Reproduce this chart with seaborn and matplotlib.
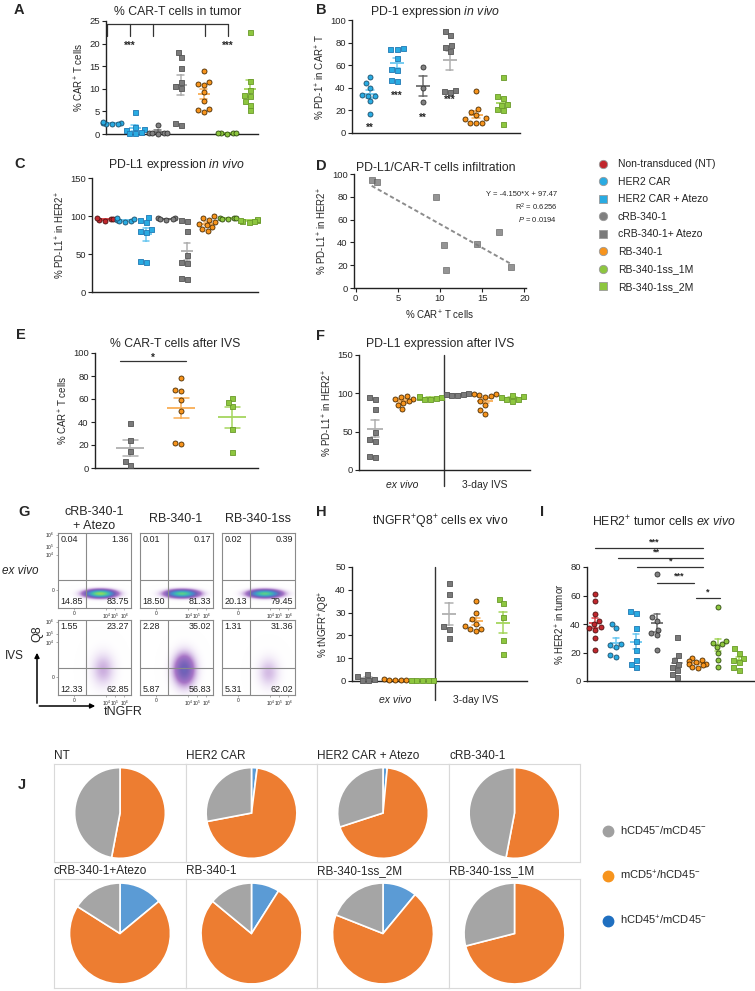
import numpy as np
import pandas as pd
import seaborn as sns
import matplotlib.pyplot as plt
from matplotlib.lines import Line2D
from matplotlib.patches import FancyArrowPatch
from matplotlib.colors import LinearSegmentedColormap

# ---------------- data ----------------
# A: % CAR-T cells in tumor
a_keys = ['HER2', 'HER2A', 'cRB', 'cRBA', 'RB', 'RB1M', 'RB2M']
a_vals = [[2.5, 2.3, 2.4, 2.2, 2.6, 2.3],
          [4.8, 1.6, 1.0, 0.8, 0.5, 0.3, 0.2],
          [2.1, 0.3, 0.2, 0.1, 0.2, 0.3],
          [18.2, 17.1, 14.5, 11.5, 10.6, 10.2, 2.0, 2.4],
          [14.0, 11.5, 11.0, 10.8, 9.2, 7.2, 5.5, 5.4, 4.8],
          [0.2, 0.3, 0.2, 0.1, 0.3],
          [22.5, 11.8, 9.8, 8.7, 8.5, 7.3, 6.5, 5.2]]

# B: PD-1 expression in vivo
b_keys = ['HER2', 'HER2A', 'cRB', 'cRBA', 'RB', 'RB2M']
b_vals = [[50, 44, 40, 34, 33, 33, 28, 17],
          [75, 74, 74, 66, 57, 56, 47, 46],
          [58, 40, 27],
          [90, 87, 76, 73, 78, 38, 36, 37],
          [37, 21, 19, 16, 13, 12, 9, 9, 9],
          [50, 33, 31, 26, 21, 20, 8, 25]]

# C: PD-L1 expression in vivo
c_keys = ['NT', 'HER2', 'HER2A', 'cRB', 'cRBA', 'RB', 'RB1M', 'RB2M']
c_vals = [[96, 95, 97, 94, 96],
          [95, 93, 97, 94, 92, 96],
          [99, 95, 92, 83, 79, 80, 41, 39],
          [97, 96, 95, 97, 96],
          [95, 93, 80, 49, 40, 38, 18, 17],
          [100, 97, 95, 92, 90, 88, 85, 83, 80],
          [97, 96, 97, 98, 96],
          [95, 93, 96, 94, 92, 95]]

# D: PD-L1 vs CAR-T infiltration
d_car = [1.9, 2.5, 9.5, 10.5, 10.7, 14.4, 17.0, 18.4]
d_pdl1 = [95, 93, 80, 38, 16, 39, 49, 18]
d_stats = ['Y = -4.150*X + 97.47', 'R$^{2}$ = 0.6256', '$\\mathit{P}$ = 0.0194']

# E: % CAR-T cells after IVS
e_keys = ['cRBA', 'RB', 'RB2M']
e_vals = [[39, 24, 15, 6, 3],
          [78, 67, 68, 59, 50, 21, 22],
          [61, 54, 57, 34, 14]]

# F: PD-L1 expression after IVS (ex vivo | 3-day IVS)
f_keys = ['cRBA', 'RB', 'RB2M', 'cRBA', 'RB', 'RB2M']
f_vals = [[93, 95, 80, 49, 40, 38, 18, 17],
          [97, 95, 93, 92, 90, 88, 85, 80],
          [95, 93, 96, 94, 92, 95],
          [99, 98, 100, 99, 98],
          [99, 98, 97, 99, 95, 90, 85, 78, 73],
          [97, 95, 93, 98, 92, 90]]

# G: flow cytometry quadrant percentages (UL, UR, LL, LR)
g_cols = ['cRB-340-1\n+ Atezo', 'RB-340-1', 'RB-340-1ss']
g_exvivo = [[0.04, 1.36, 14.85, 83.75], [0.01, 0.17, 18.50, 81.33], [0.02, 0.39, 20.13, 79.45]]
g_ivs = [[1.55, 23.27, 12.33, 62.85], [2.28, 35.02, 5.87, 56.83], [1.31, 31.36, 5.31, 62.02]]
# cloud centre / spread / peak density of each flow plot
g_ex_cloud = [(0.58, 0.19, 0.17, 0.045, 1.0), (0.57, 0.19, 0.18, 0.045, 0.9), (0.58, 0.19, 0.18, 0.045, 0.9)]
g_ivs_cloud = [(0.62, 0.34, 0.14, 0.20, 0.26), (0.60, 0.34, 0.13, 0.19, 0.52), (0.63, 0.30, 0.13, 0.18, 0.24)]

# H: tNGFR+Q8+ cells
h_keys = ['cRBA', 'RB', 'RB2M', 'cRBA', 'RB', 'RB2M']
h_vals = [[3.0, 2.0, 1.0, 0.5, 0.5],
          [0.8, 0.5, 0.4, 0.3, 0.5],
          [0.6, 0.4, 0.5, 0.3, 0.5],
          [43, 38, 24, 23, 19],
          [35, 30, 27, 25, 24, 23, 23, 22],
          [36, 34, 28, 18, 12]]

# I: HER2+ tumor cells ex vivo
i_keys = ['NT', 'HER2', 'HER2A', 'cRB', 'cRBA', 'RB', 'RB1M', 'RB2M']
i_vals = [[61, 56, 47, 42, 40, 38, 36, 37, 30, 22],
          [40, 37, 26, 24, 18, 17, 25],
          [48, 49, 37, 28, 22, 15, 10, 12],
          [75, 45, 36, 34, 32, 22, 42],
          [31, 18, 15, 12, 10, 8, 5, 3],
          [16, 15, 14, 13, 12, 12, 11, 10, 9],
          [52, 27, 26, 28, 24, 20, 15, 10],
          [23, 20, 16, 15, 13, 10, 8]]

# J: pies (hCD45+/mCD45-, mCD5+/hCD45-, hCD45-/mCD45-)
j_titles = ['NT', 'HER2 CAR', 'HER2 CAR + Atezo', 'cRB-340-1',
            'cRB-340-1+Atezo', 'RB-340-1', 'RB-340-1ss_2M', 'RB-340-1ss_1M']
j_blue = [0, 2, 1.5, 0, 14, 9, 11, 0]
j_orange = [53, 70, 68.5, 53, 70, 77, 70, 71]
j_gray = [47, 28, 30, 47, 16, 14, 19, 29]
j_legend = ['hCD45$^{-}$/mCD45$^{-}$', 'mCD5$^{+}$/hCD45$^{-}$', 'hCD45$^{+}$/mCD45$^{-}$']

legend_keys = ['NT', 'HER2', 'HER2A', 'cRB', 'cRBA', 'RB', 'RB1M', 'RB2M']
legend_labels = ['Non-transduced (NT)', 'HER2 CAR', 'HER2 CAR + Atezo', 'cRB-340-1',
                 'cRB-340-1+ Atezo', 'RB-340-1', 'RB-340-1ss_1M', 'RB-340-1ss_2M']

# ---------------- style ----------------
STY = {
    'NT':    dict(face='#C1272D', edge='#4a1212', mean='#E0474C', marker='o'),
    'HER2':  dict(face='#29ABE2', edge='#1d4f6b', mean='#6CC8F0', marker='o'),
    'HER2A': dict(face='#29ABE2', edge='#1F78B4', mean='#6CC8F0', marker='s'),
    'cRB':   dict(face='#808080', edge='#333333', mean='#6E6E6E', marker='o'),
    'cRBA':  dict(face='#7A7A7A', edge='#555555', mean='#B0B0B0', marker='s'),
    'RB':    dict(face='#F7941D', edge='#4a2a00', mean='#F9AE55', marker='o'),
    'RB1M':  dict(face='#8DC63F', edge='#2f4a10', mean='#A5D65E', marker='o'),
    'RB2M':  dict(face='#8DC63F', edge='#6A9A2A', mean='#A5D65E', marker='s'),
}

sns.set_style('ticks')
plt.rcParams['font.family'] = ['Liberation Sans', 'DejaVu Sans']
plt.rcParams['mathtext.fontset'] = 'custom'
plt.rcParams['mathtext.rm'] = 'Liberation Sans'
plt.rcParams['mathtext.it'] = 'Liberation Sans:italic'
plt.rcParams['mathtext.bf'] = 'Liberation Sans:bold'

W, H = 755, 991
fig = plt.figure(figsize=(W / 100, H / 100), dpi=100)


def add_ax(x0, y0, x1, y1):
    return fig.add_axes([x0 / W, 1 - y1 / H, (x1 - x0) / W, (y1 - y0) / H])


def ftext(x, y, s, **kw):
    fig.text(x / W, 1 - y / H, s, **kw)


def style_ax(ax):
    sns.despine(ax=ax)
    for s in ('left', 'bottom'):
        ax.spines[s].set_linewidth(1.0)
        ax.spines[s].set_color('#222222')
    ax.tick_params(length=3, width=0.8, labelsize=6.8, pad=1.5, color='#222222')


def dot_panel(rect, keys, vals, xlim, ylim, yticks, ylabel):
    ax = add_ax(*rect)
    names = [f'{k}_{i}' for i, k in enumerate(keys)]
    df = pd.DataFrame({'grp': np.repeat(names, [len(v) for v in vals]),
                       'val': np.concatenate(vals).astype(float)})
    spacing = (rect[2] - rect[0]) / (xlim[1] - xlim[0])
    for n, k in zip(names, keys):
        st = STY[k]
        sns.swarmplot(data=df[df['grp'] == n], x='grp', y='val', order=names,
                      color=st['face'], edgecolor=st['edge'], linewidth=0.6,
                      marker=st['marker'], size=3.6, warn_thresh=1, ax=ax)
    sns.pointplot(data=df, x='grp', y='val', order=names, hue='grp', hue_order=names,
                  palette={n: STY[k]['mean'] for n, k in zip(names, keys)},
                  errorbar='se', capsize=0.3, marker='_', markersize=0.55 * spacing * 0.72,
                  markeredgewidth=1.3, linestyle='none', err_kws={'linewidth': 1.1},
                  legend=False, ax=ax)
    for c in ax.collections:
        c.set_clip_on(False)
    ax.set_xlim(*xlim)
    ax.set_ylim(*ylim)
    ax.set_yticks(yticks)
    style_ax(ax)
    ax.tick_params(axis='x', length=0, labelbottom=False)
    ax.set_xlabel('')
    ax.set_ylabel(ylabel, fontsize=7, labelpad=2)
    return ax


def letter(x, y, s):
    ftext(x, y, s, fontsize=10.5, fontweight='bold', ha='left', va='center')


def title(x, y, s):
    ftext(x, y, s, fontsize=8.8, ha='center', va='center')


# ---------------- A ----------------
ax = dot_panel((106, 21, 258, 134), a_keys, a_vals, (-0.25, 6.35), (0, 25), range(0, 26, 5),
               '% CAR$^{+}$ T cells')
ax.plot([-0.2, 5.05], [24.3, 24.3], color='#333', lw=0.9, clip_on=False)
for xb in [-0.2, 0.8, 1.8, 4.05, 5.05]:
    ax.plot([xb, xb], [24.3, 21.7], color='#333', lw=0.9, clip_on=False)
for xs in [0.8, 5.05]:
    ax.text(xs, 19.6, '***', ha='center', va='center', fontsize=7, fontweight='bold')
letter(14, 10, 'A')
title(178, 12, '% CAR-T cells in tumor')

# ---------------- B ----------------
ax = dot_panel((352, 20, 520, 133), b_keys, b_vals, (-0.68, 5.66), (0, 100), range(0, 101, 20),
               '% PD-1$^{+}$ in CAR$^{+}$ T')
for xs, ys, s in [(0, 5, '**'), (1, 33, '***'), (2, 13, '**'), (3, 29, '***')]:
    ax.text(xs, ys, s, ha='center', va='center', fontsize=7, fontweight='bold')
letter(316, 10, 'B')
title(435, 12, 'PD-1 expression $\\mathit{in\\ vivo}$')

# ---------------- C ----------------
dot_panel((92, 178, 258, 292), c_keys, c_vals, (-0.63, 7.46), (0, 150), [0, 50, 100, 150],
          '% PD-L1$^{+}$ in HER2$^{+}$')
letter(14, 164, 'C')
title(177, 165, 'PD-L1 expression $\\mathit{in\\ vivo}$')

# ---------------- D ----------------
ax = add_ax(354, 174, 526, 288)
sns.regplot(x=d_car, y=d_pdl1, ci=None, truncate=True, marker='s', color='#7A7A7A',
            scatter_kws={'s': 18, 'edgecolor': '#555555', 'linewidths': 0.5, 'zorder': 3},
            line_kws={'color': '#8C8C8C', 'linestyle': (0, (2.2, 1.4)), 'linewidth': 1.4}, ax=ax)
ax.set_xlim(-0.2, 20.2)
ax.set_ylim(0, 100)
ax.set_xticks(range(0, 21, 5))
ax.set_yticks(range(0, 101, 20))
style_ax(ax)
ax.set_xlabel('% CAR$^{+}$ T cells', fontsize=7, labelpad=4)
ax.set_ylabel('% PD-L1$^{+}$ in HER2$^{+}$', fontsize=7, labelpad=2)
for k, s in enumerate(d_stats):
    ftext(557, 194 + 13 * k, s, ha='right', va='center', fontsize=5.5)
letter(316, 166, 'D')
title(436, 168, 'PD-L1/CAR-T cells infiltration')

# legend of groups
handles = [Line2D([], [], ls='none', marker=STY[k]['marker'], markersize=6,
                  markerfacecolor=STY[k]['face'], markeredgecolor='#9a9a9a', markeredgewidth=0.6)
           for k in legend_keys]
fig.legend(handles, legend_labels, loc='upper left', bbox_to_anchor=(594 / W, 1 - 155 / H),
           frameon=False, fontsize=7.5, labelspacing=0.72, handletextpad=0.9,
           handlelength=1.0, borderaxespad=0, labelcolor='#222222')

# ---------------- E ----------------
ax = dot_panel((95, 353, 258, 468), e_keys, e_vals, (-0.69, 2.5), (0, 100), range(0, 101, 20),
               '% CAR$^{+}$ T cells')
ax.plot([-0.2, 1.1], [93, 93], color='#333', lw=0.9, clip_on=False)
ax.text(0.45, 95.5, '*', ha='center', va='center', fontsize=7, fontweight='bold')
letter(16, 335, 'E')
title(175, 344, '% CAR-T cells after IVS')

# ---------------- F ----------------
ax = dot_panel((359, 355, 530, 470), f_keys, f_vals, (-0.58, 5.64), (0, 150), [0, 50, 100, 150],
               '% PD-L1$^{+}$ in HER2$^{+}$')
ax.axvline(2.5, ymin=-0.14, ymax=1, color='#333', lw=1.0, clip_on=False)
ax.text(1, -0.13, 'ex vivo', style='italic', fontsize=7.5, ha='center', va='center',
        transform=ax.get_xaxis_transform())
ax.text(4, -0.13, '3-day IVS', fontsize=7.5, ha='center', va='center',
        transform=ax.get_xaxis_transform())
letter(316, 336, 'F')
title(440, 344, 'PD-L1 expression after IVS')

# ---------------- G ----------------
cmap = LinearSegmentedColormap.from_list('flow', [(1, 1, 1, 0), (0.86, 0.78, 0.92, 0.55),
                                                  (0.66, 0.46, 0.78, 1), (0.45, 0.38, 0.72, 1),
                                                  (0.27, 0.55, 0.80, 1), (0.25, 0.76, 0.66, 1),
                                                  (0.55, 0.86, 0.38, 1)])
gx, gy = np.meshgrid(np.linspace(0, 1, 200), np.linspace(0, 1, 200))
col_x = [58, 140, 222]
rows = [(533, 608, g_exvivo, g_ex_cloud, 0.37), (620, 695, g_ivs, g_ivs_cloud, 0.36)]
for r, (y0, y1, quads, clouds, hline) in enumerate(rows):
    for c in range(3):
        ax = add_ax(col_x[c], y0, col_x[c] + 73, y1)
        cx, cy, sx, sy, peak = clouds[c]
        z = peak * np.exp(-(((gx - cx) / sx) ** 2 + ((gy - cy) / sy) ** 2) / 2)
        ax.imshow(z, extent=(0, 1, 0, 1), origin='lower', cmap=cmap, vmin=0, vmax=1,
                  aspect='auto', interpolation='bilinear')
        ax.axvline(0.38, color='#8a8a8a', lw=0.8)
        ax.axhline(hline, color='#8a8a8a', lw=0.8)
        ax.set_xlim(0, 1)
        ax.set_ylim(0, 1)
        for s in ax.spines.values():
            s.set_color('#8a8a8a')
            s.set_linewidth(0.8)
        ul, ur, ll, lr = quads[c]
        kw = dict(fontsize=6.5, transform=ax.transAxes, color='#222222')
        ax.text(0.03, 0.97, f'{ul:.2f}', ha='left', va='top', **kw)
        ax.text(0.97, 0.97, f'{ur:.2f}', ha='right', va='top', **kw)
        ax.text(0.03, 0.02, f'{ll:.2f}', ha='left', va='bottom', **kw)
        ax.text(0.97, 0.02, f'{lr:.2f}', ha='right', va='bottom', **kw)
        ax.set_xticks([0.22, 0.66, 0.78, 0.91])
        ax.set_xticklabels(['0', '10$^4$', '10$^5$', '10$^6$'])
        if c == 0:
            ax.set_yticks([0.24, 0.71, 0.82, 0.98])
            ax.set_yticklabels(['0', '10$^4$', '10$^5$', '10$^6$'])
        else:
            ax.set_yticks([])
        ax.tick_params(length=1.5, width=0.5, labelsize=3.5, pad=1, color='#8a8a8a')
        if r == 0:
            ftext(col_x[c] + 36, 519, g_cols[c], ha='center', va='center', fontsize=9,
                  linespacing=1.25)
ftext(20, 571, 'ex vivo', style='italic', ha='center', va='center', fontsize=8.5)
ftext(14, 656, 'IVS', ha='center', va='center', fontsize=8.5)
fig.add_artist(FancyArrowPatch((37 / W, 1 - 706 / H), (37 / W, 1 - 650 / H),
                               transform=fig.transFigure, arrowstyle='-|>', mutation_scale=7,
                               lw=1.1, color='k'))
fig.add_artist(FancyArrowPatch((36.5 / W, 1 - 706 / H), (98 / W, 1 - 706 / H),
                               transform=fig.transFigure, arrowstyle='-|>', mutation_scale=7,
                               lw=1.1, color='k'))
ftext(37, 634, 'Q8', rotation=90, ha='center', va='center', fontsize=9)
ftext(104, 712, 'tNGFR', ha='left', va='center', fontsize=9)
letter(18, 512, 'G')

# ---------------- H ----------------
ax = dot_panel((352, 567, 527, 681), h_keys, h_vals, (-0.6, 5.9), (0, 50), range(0, 51, 10),
               '% tNGFR$^{+}$/Q8$^{+}$')
ax.axvline(2.5, ymin=-0.17, ymax=1, color='#333', lw=1.0, clip_on=False)
ax.text(1, -0.17, 'ex vivo', style='italic', fontsize=7.5, ha='center', va='center',
        transform=ax.get_xaxis_transform())
ax.text(4, -0.17, '3-day IVS', fontsize=7.5, ha='center', va='center',
        transform=ax.get_xaxis_transform())
letter(316, 512, 'H')
title(440, 522, 'tNGFR$^{+}$Q8$^{+}$ cells ex vivo')

# ---------------- I ----------------
ax = dot_panel((587, 567, 755, 681), i_keys, i_vals, (-0.4, 7.8), (0, 80), range(0, 81, 20),
               '% HER2$^{+}$ in tumor')
for xa, xb, yb, xs, s in [(0.0, 5.25, 93, 2.9, '***'), (1.1, 5.25, 86, 3.0, '**'),
                          (2.05, 5.25, 80, 3.7, '*'), (3.0, 4.8, 69, 4.1, '***'),
                          (4.9, 6.1, 58, 5.5, '*')]:
    ax.plot([xa, xb], [yb, yb], color='#333', lw=0.9, clip_on=False)
    ax.text(xs, yb + 1.2, s, ha='center', va='bottom', fontsize=6.5, fontweight='bold')
letter(540, 512, 'I')
title(664, 522, 'HER2$^{+}$ tumor cells $\\mathit{ex\\ vivo}$')

# ---------------- J ----------------
box_x = [54, 186, 317, 449, 580]
box_rows = [(764, 862), (879, 988)]
pie_cols = ['#5B9BD5', '#ED7D31', '#A5A5A5']
for idx in range(8):
    r, c = divmod(idx, 4)
    y0, y1 = box_rows[r]
    ax = add_ax(box_x[c], y0, box_x[c + 1], y1)
    ax.pie([j_blue[idx], j_orange[idx], j_gray[idx]], colors=pie_cols, startangle=90,
           counterclock=False, wedgeprops={'edgecolor': 'white', 'linewidth': 1.2})
    ax.set_aspect('equal', adjustable='datalim')
    ax.set_ylim(-1.08, 1.08)
    ax.set_frame_on(True)
    for s in ax.spines.values():
        s.set_visible(True)
        s.set_color('#D9D9D9')
        s.set_linewidth(0.8)
    ftext(box_x[c], y0 - 2, j_titles[idx], ha='left', va='bottom', fontsize=8.5)
letter(18, 785, 'J')
j_handles = [Line2D([], [], ls='none', marker='o', markersize=7.5, markerfacecolor=col,
                    markeredgecolor=col) for col in ['#A0A0A0', '#F7941D', '#1F6FC0']]
fig.legend(j_handles, j_legend, loc='upper left', bbox_to_anchor=(598 / W, 1 - 820 / H),
           frameon=False, fontsize=8, labelspacing=2.9, handletextpad=0.6,
           handlelength=1.0, borderaxespad=0)

fig.savefig('out.png', dpi=100)
